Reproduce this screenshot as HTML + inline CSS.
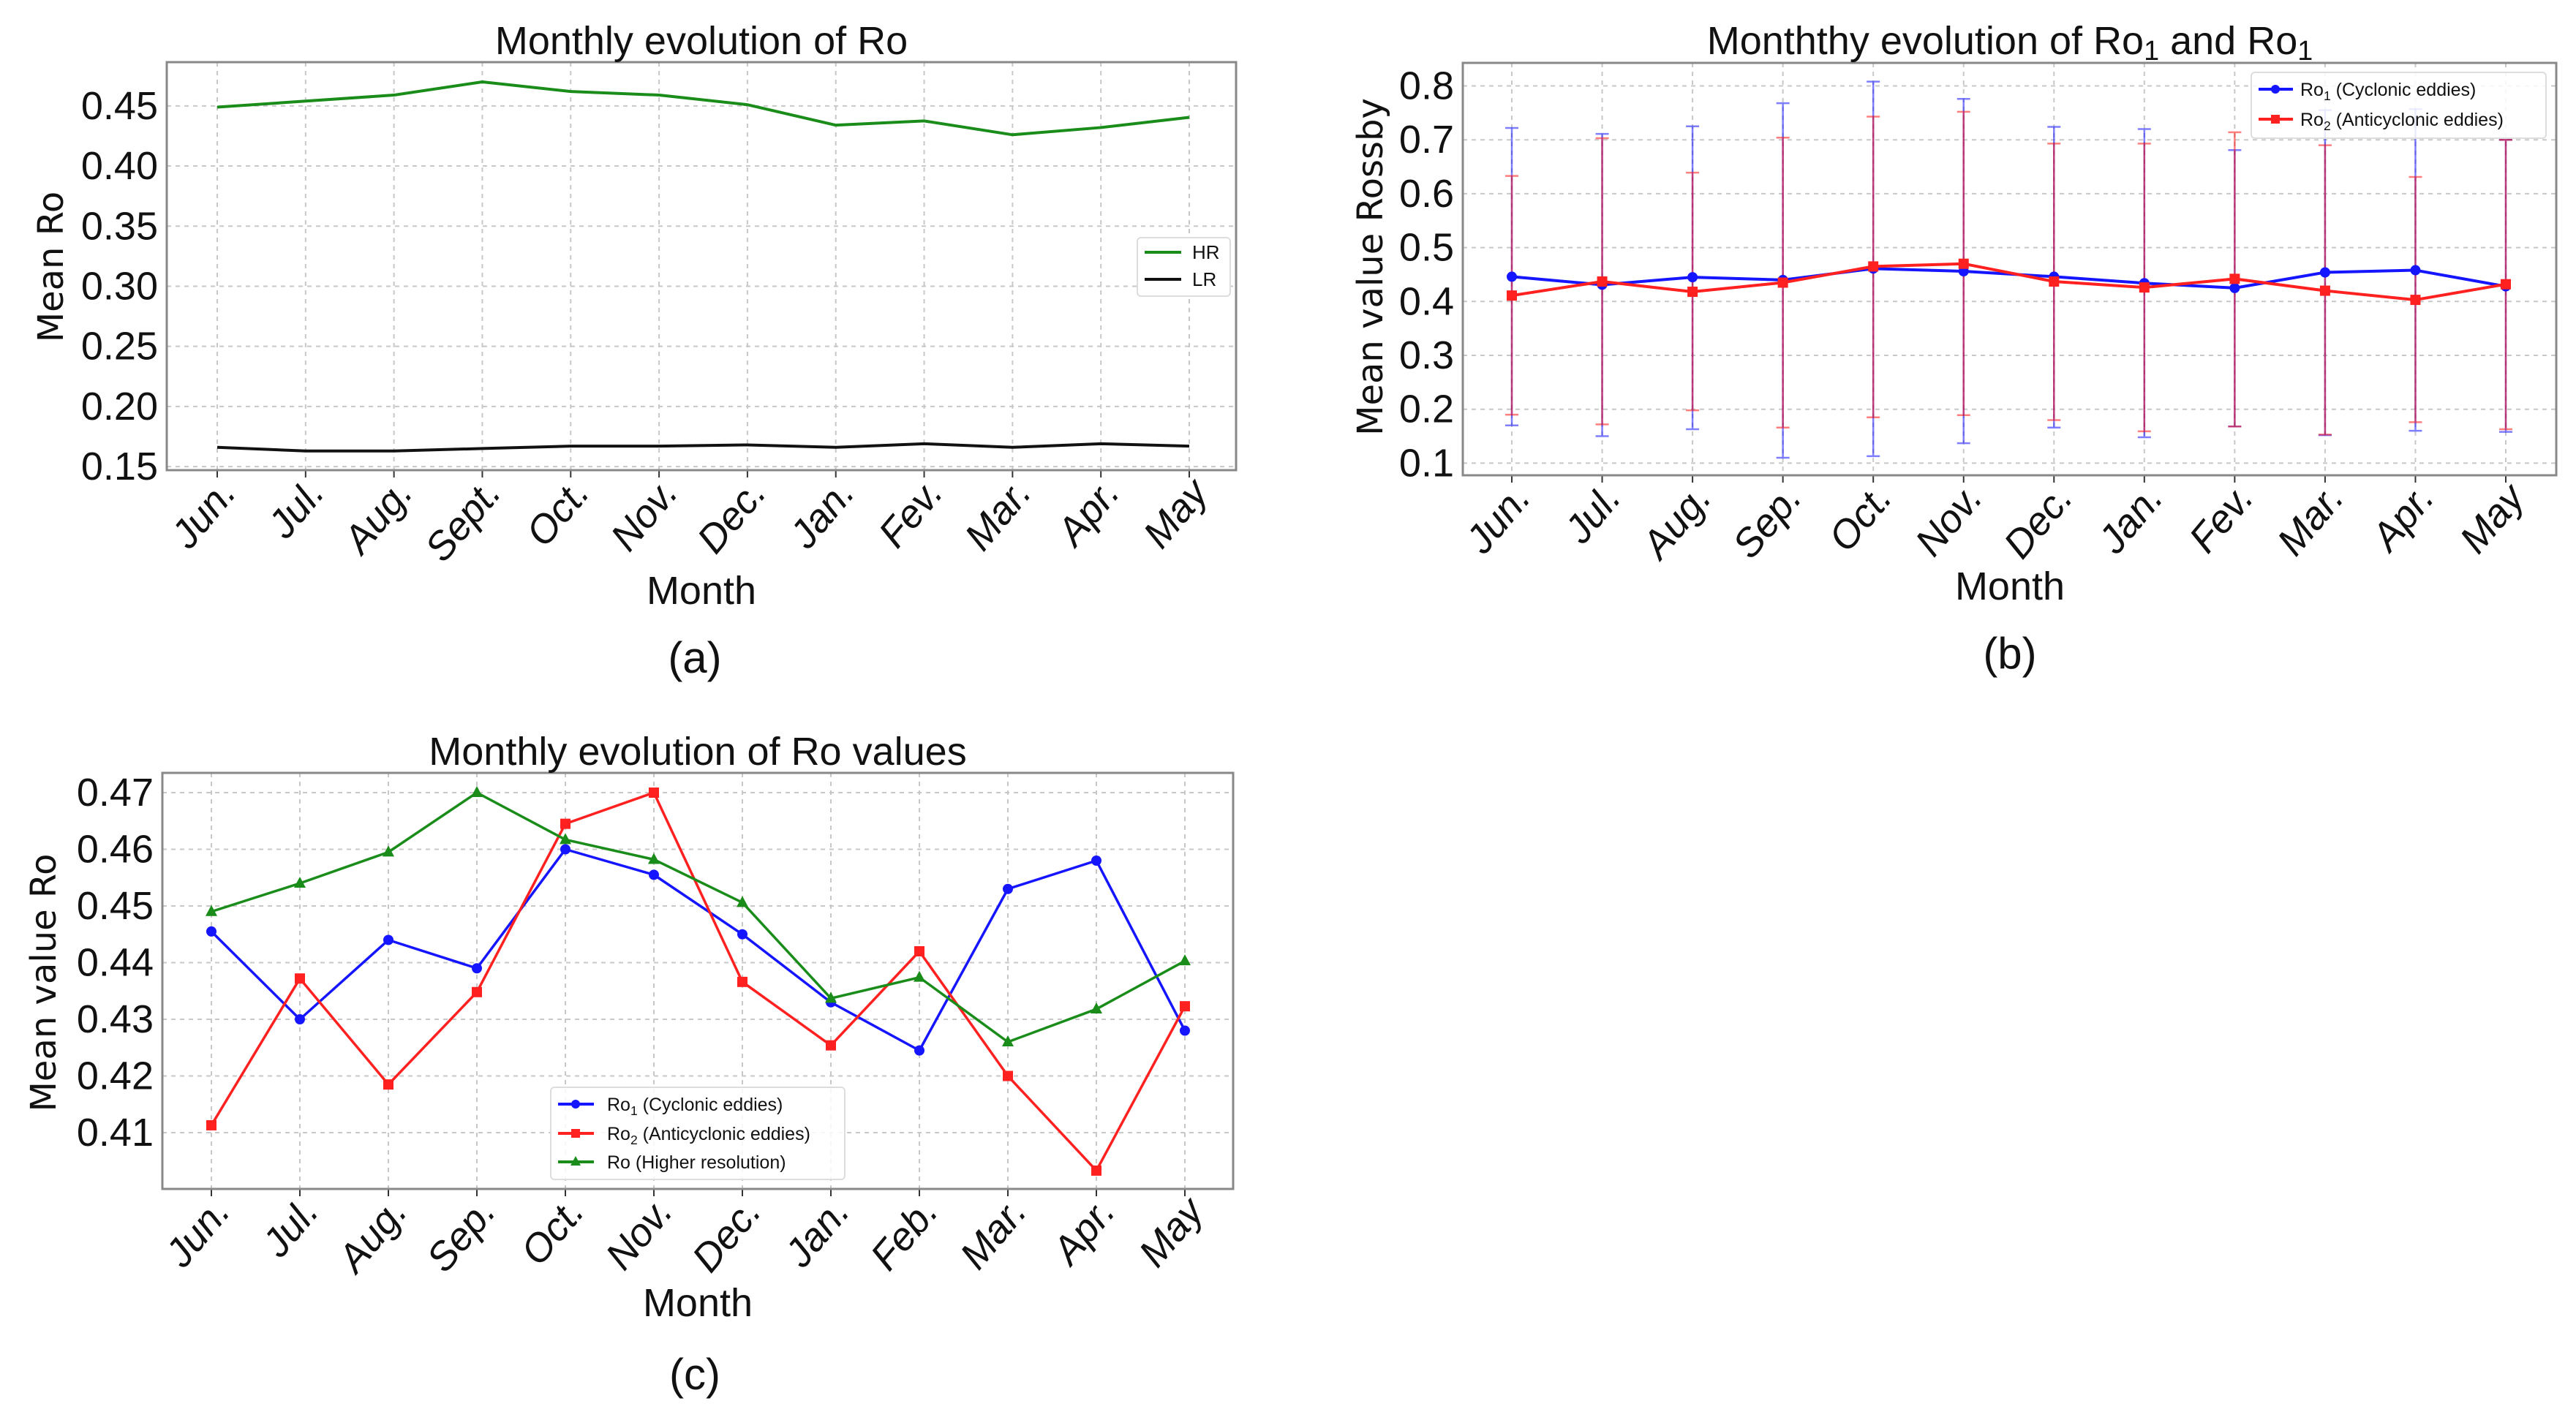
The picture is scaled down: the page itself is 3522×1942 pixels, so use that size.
<!DOCTYPE html>
<html><head><meta charset="utf-8"><style>
html,body{margin:0;padding:0;background:#fff;}
svg{display:block;font-family:"Liberation Sans",sans-serif;}
</style></head><body>
<svg id="fig" width="3522" height="1942" viewBox="0 0 3522 1942" xmlns="http://www.w3.org/2000/svg"></svg>
<script>
const monthsA = ["Jun.","Jul.","Aug.","Sept.","Oct.","Nov.","Dec.","Jan.","Fev.","Mar.","Apr.","May"];
const monthsB = ["Jun.","Jul.","Aug.","Sep.","Oct.","Nov.","Dec.","Jan.","Fev.","Mar.","Apr.","May"];
const monthsC = ["Jun.","Jul.","Aug.","Sep.","Oct.","Nov.","Dec.","Jan.","Feb.","Mar.","Apr.","May"];
const hrValues = [0.449,0.454,0.459,0.470,0.462,0.459,0.451,0.434,0.4375,0.426,0.432,0.4405];
const lrValues = [0.166,0.163,0.163,0.165,0.167,0.167,0.168,0.166,0.169,0.166,0.169,0.167];
const ticksA = [0.15,0.20,0.25,0.30,0.35,0.40,0.45];
const ro1B = [0.446,0.431,0.445,0.440,0.461,0.456,0.446,0.434,0.425,0.454,0.458,0.428];
const ro1Upper = [0.722,0.711,0.725,0.768,0.808,0.776,0.724,0.720,0.681,0.755,0.757,0.700];
const ro1Lower = [0.170,0.150,0.163,0.110,0.113,0.137,0.166,0.148,0.168,0.152,0.160,0.158];
const ro2B = [0.411,0.437,0.418,0.435,0.465,0.470,0.437,0.426,0.442,0.420,0.403,0.432];
const ro2Upper = [0.633,0.703,0.639,0.704,0.743,0.752,0.693,0.693,0.714,0.690,0.631,0.700];
const ro2Lower = [0.190,0.172,0.198,0.166,0.185,0.189,0.180,0.159,0.168,0.153,0.176,0.163];
const ticksB = [0.1,0.2,0.3,0.4,0.5,0.6,0.7,0.8];
const ro1C = [0.4455,0.430,0.444,0.439,0.460,0.4555,0.445,0.433,0.4245,0.453,0.458,0.428];
const ro2C = [0.4113,0.4372,0.4185,0.4348,0.4645,0.470,0.4366,0.4254,0.442,0.420,0.4033,0.4323];
const roC = [0.449,0.454,0.4595,0.470,0.4617,0.4582,0.4506,0.4337,0.4374,0.426,0.4318,0.4403];
const ticksC = [0.41,0.42,0.43,0.44,0.45,0.46,0.47];

const NS="http://www.w3.org/2000/svg";
const svg=document.getElementById('fig');
function mk(tag,attrs,parent){const e=document.createElementNS(NS,tag);for(const k in attrs)e.setAttribute(k,attrs[k]);(parent||svg).appendChild(e);return e;}

function axes(g,cfg){
  const {L,R,T,B,x0,x1,labels,ticks,fmt}=cfg;
  const xs=i=>x0+(x1-x0)*i/(labels.length-1);
  const ys=v=>B-(v-cfg.vmin)/(cfg.vmax-cfg.vmin)*(B-T);
  labels.forEach((m,i)=>{
    const l=mk('line',{x1:xs(i),x2:xs(i),y1:T,y2:B,stroke:'#c8c8c8','stroke-width':2,'stroke-dasharray':'6,6'},g);
    
    
  });
  ticks.forEach(v=>{
    const l=mk('line',{x1:L,x2:R,y1:ys(v),y2:ys(v),stroke:'#c8c8c8','stroke-width':2,'stroke-dasharray':'6,6'},g);
    
    
    const t=mk('text',{x:L-12,y:ys(v)+18,'text-anchor':'end','font-size':54,fill:'#111'},g);
    t.textContent=fmt(v);
    
    
  });
  labels.forEach((m,i)=>{
    mk('line',{x1:xs(i),x2:xs(i),y1:B,y2:B+10,stroke:'#333','stroke-width':2},g);
    const t=mk('text',{x:0,y:0,'text-anchor':'end','font-size':54,'font-style':'italic',fill:'#111',transform:`translate(${xs(i)+28},${B+32}) rotate(-50)`},g);
    t.textContent=m;
    
    
  });
  const f=mk('rect',{x:L,y:T,width:R-L,height:B-T,fill:'none',stroke:'#888','stroke-width':3},g);
  
  
  return {xs,ys};
}
function text(g,x,y,s,size,name,extra){const t=mk('text',Object.assign({x:x,y:y,'text-anchor':'middle','font-size':size,fill:'#111'},extra||{}),g);t.textContent=s;return t;}
function line(g,xs,ys,vals,color,name,w){
  const p=mk('polyline',{points:vals.map((v,i)=>xs(i)+','+ys(v)).join(' '),fill:'none',stroke:color,'stroke-width':w||4,'stroke-linejoin':'round'},g);
  
  
}
function markers(g,xs,ys,vals,color,shape,name){
  vals.forEach((v,i)=>{
    const x=xs(i),y=ys(v);let m;
    if(shape==='circle')m=mk('circle',{cx:x,cy:y,r:7,fill:color},g);
    else if(shape==='square')m=mk('rect',{x:x-7,y:y-7,width:14,height:14,fill:color},g);
    else m=mk('polygon',{points:`${x},${y-9} ${x-8},${y+6} ${x+8},${y+6}`,fill:color},g);
    
    
  });
}
function legendSub(t,base,sub,rest){t.textContent='';const a=document.createElementNS(NS,'tspan');a.textContent=base;t.appendChild(a);const b=document.createElementNS(NS,'tspan');b.setAttribute('font-size','0.7em');b.setAttribute('dy','6');b.textContent=sub;t.appendChild(b);const c=document.createElementNS(NS,'tspan');c.setAttribute('dy','-6');c.textContent=rest;t.appendChild(c);}
const YF={'font-family':'"DejaVu Sans",sans-serif'};

// ---------- Panel A ----------
const gA=mk('g',{});


const A=axes(gA,{L:228,R:1690,T:85,B:643,x0:297,x1:1626,vmin:0.147,vmax:0.4864,labels:monthsA,ticks:ticksA,fmt:v=>v.toFixed(2)});
line(gA,A.xs,A.ys,hrValues,'#1a8c1a','hr-line',4);
line(gA,A.xs,A.ys,lrValues,'#111','lr-line',4);
text(gA,959,74,'Monthly evolution of Ro',54,'chart-title-a');
text(gA,0,0,'Mean Ro',48,'y-axis-title-a',Object.assign({transform:'translate(86,365) rotate(-90)'},YF));
text(gA,959,826,'Month',54,'x-axis-title-a');
text(gA,950,920,'(a)',60,'panel-label-a');
const lgA=mk('g',{},gA);
mk('rect',{x:1555,y:325,width:127,height:80,rx:5,fill:'#fff',stroke:'#ddd','stroke-width':2},lgA);
mk('line',{x1:1565,x2:1615,y1:345,y2:345,stroke:'#1a8c1a','stroke-width':4},lgA);
text(lgA,1630,354,'HR',26,'legend-entry-hr',{'text-anchor':'start'});
mk('line',{x1:1565,x2:1615,y1:382,y2:382,stroke:'#111','stroke-width':4},lgA);
text(lgA,1630,391,'LR',26,'legend-entry-lr',{'text-anchor':'start'});

// ---------- Panel B ----------
const gB=mk('g',{});


const B=axes(gB,{L:2000,R:3495,T:86,B:650,x0:2067,x1:3426,vmin:0.8-(650-117.5)/737,vmax:0.8+(117.5-86)/737,labels:monthsB,ticks:ticksB,fmt:v=>v.toFixed(1)});
function errbars(vals,up,lo,color,name){
  vals.forEach((v,i)=>{
    const x=B.xs(i);
    const e=mk('g',{stroke:color,'stroke-width':2.5,opacity:0.5},gB);
    
    
    mk('line',{x1:x,x2:x,y1:B.ys(up[i]),y2:B.ys(lo[i])},e);
    mk('line',{x1:x-9,x2:x+9,y1:B.ys(up[i]),y2:B.ys(up[i])},e);
    mk('line',{x1:x-9,x2:x+9,y1:B.ys(lo[i]),y2:B.ys(lo[i])},e);
  });
}
errbars(ro1B,ro1Upper,ro1Lower,'#0000ff','ro1-error-bar');
errbars(ro2B,ro2Upper,ro2Lower,'#ff0000','ro2-error-bar');
line(gB,B.xs,B.ys,ro1B,'#1515ff','ro1-line-b',4);
markers(gB,B.xs,B.ys,ro1B,'#1515ff','circle','ro1-point-b');
line(gB,B.xs,B.ys,ro2B,'#ff2020','ro2-line-b',4);
markers(gB,B.xs,B.ys,ro2B,'#ff2020','square','ro2-point-b');
const tB=text(gB,2748,74,'',54,'chart-title-b');
(function(){const parts=[['Monththy evolution of Ro',0],['1',1],[' and Ro',-1],['1',1]];parts.forEach(p=>{const s=document.createElementNS(NS,'tspan');s.textContent=p[0];if(p[1]===1){s.setAttribute('font-size','0.7em');s.setAttribute('dy','8');}else if(p[1]===-1){s.setAttribute('dy','-8');}tB.appendChild(s);});})();
text(gB,0,0,'Mean value Rossby',48,'y-axis-title-b',Object.assign({transform:'translate(1890,365) rotate(-90)'},YF));
text(gB,2748,820,'Month',54,'x-axis-title-b');
text(gB,2748,914,'(b)',60,'panel-label-b');
const lgB=mk('g',{},gB);
mk('rect',{x:3078,y:99,width:403,height:90,rx:5,fill:'#fff','fill-opacity':0.85,stroke:'#ddd','stroke-width':2},lgB);
mk('line',{x1:3088,x2:3135,y1:122,y2:122,stroke:'#1515ff','stroke-width':4},lgB);
mk('circle',{cx:3111,cy:122,r:6,fill:'#1515ff'},lgB);
legendSub(text(lgB,3145,131,'',25,'legend-entry-ro1-b',{'text-anchor':'start'}),'Ro','1',' (Cyclonic eddies)');
mk('line',{x1:3088,x2:3135,y1:163,y2:163,stroke:'#ff2020','stroke-width':4},lgB);
mk('rect',{x:3105,y:157,width:12,height:12,fill:'#ff2020'},lgB);
legendSub(text(lgB,3145,172,'',25,'legend-entry-ro2-b',{'text-anchor':'start'}),'Ro','2',' (Anticyclonic eddies)');

// ---------- Panel C ----------
const gC=mk('g',{});


const C=axes(gC,{L:222,R:1686,T:1057,B:1626,x0:289,x1:1620,vmin:0.47-(1626-1084)/7750,vmax:0.47+(1084-1057)/7750,labels:monthsC,ticks:ticksC,fmt:v=>v.toFixed(2)});
line(gC,C.xs,C.ys,ro1C,'#1515ff','ro1-line-c',3.5);
markers(gC,C.xs,C.ys,ro1C,'#1515ff','circle','ro1-point-c');
line(gC,C.xs,C.ys,ro2C,'#ff2020','ro2-line-c',3.5);
markers(gC,C.xs,C.ys,ro2C,'#ff2020','square','ro2-point-c');
line(gC,C.xs,C.ys,roC,'#1a8c1a','ro-line-c',3.5);
markers(gC,C.xs,C.ys,roC,'#1a8c1a','triangle','ro-point-c');
text(gC,954,1046,'Monthly evolution of Ro values',54,'chart-title-c');
text(gC,0,0,'Mean value Ro',48,'y-axis-title-c',Object.assign({transform:'translate(76,1344) rotate(-90)'},YF));
text(gC,954,1800,'Month',54,'x-axis-title-c');
text(gC,950,1900,'(c)',60,'panel-label-c');
const lgC=mk('g',{},gC);
mk('rect',{x:753,y:1487,width:402,height:126,rx:5,fill:'#fff','fill-opacity':0.85,stroke:'#ddd','stroke-width':2},lgC);
mk('line',{x1:763,x2:812,y1:1510,y2:1510,stroke:'#1515ff','stroke-width':4},lgC);
mk('circle',{cx:787,cy:1510,r:6,fill:'#1515ff'},lgC);
legendSub(text(lgC,830,1519,'',25,'legend-entry-ro1-c',{'text-anchor':'start'}),'Ro','1',' (Cyclonic eddies)');
mk('line',{x1:763,x2:812,y1:1550,y2:1550,stroke:'#ff2020','stroke-width':4},lgC);
mk('rect',{x:781,y:1544,width:12,height:12,fill:'#ff2020'},lgC);
legendSub(text(lgC,830,1559,'',25,'legend-entry-ro2-c',{'text-anchor':'start'}),'Ro','2',' (Anticyclonic eddies)');
mk('line',{x1:763,x2:812,y1:1589,y2:1589,stroke:'#1a8c1a','stroke-width':4},lgC);
mk('polygon',{points:'787,1581 780,1594 794,1594',fill:'#1a8c1a'},lgC);
text(lgC,830,1598,'Ro (Higher resolution)',25,'legend-entry-ro-c',{'text-anchor':'start'});
</script>
</body></html>
